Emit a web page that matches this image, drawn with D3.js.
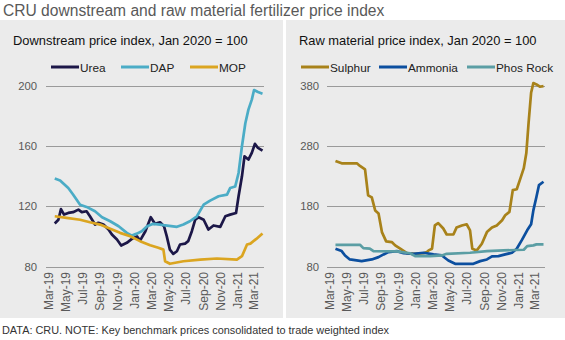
<!DOCTYPE html>
<html>
<head>
<meta charset="utf-8">
<script src="https://cdn.jsdelivr.net/npm/d3@7/dist/d3.min.js"></script>
<style>
  body { margin: 0; background: #fff; }
  text { font-family: Arial, "Liberation Sans", sans-serif; }
</style>
</head>
<body>
<svg id="chart" width="565" height="340"></svg>
<script>
// Tick labels (both panels share the same months)
var xTickLabels = ["Mar-19", "May-19", "Jul-19", "Sep-19", "Nov-19", "Jan-20", "Mar-20",
                   "May-20", "Jul-20", "Sep-20", "Nov-20", "Jan-21", "Mar-21"];
var leftTicks = [80, 120, 160, 200];
var rightTicks = [80, 180, 280, 380];

// Downstream series, [date, index]
var ureaData = [
    ["2019-03-25", 108.5], ["2019-04-07", 111], ["2019-04-16", 118], ["2019-04-27", 114.4],
    ["2019-05-12", 115.5], ["2019-05-29", 116], ["2019-06-17", 117.7], ["2019-06-29", 116],
    ["2019-07-16", 116.6], ["2019-07-28", 113.3], ["2019-08-15", 107.8], ["2019-08-27", 109],
    ["2019-09-14", 107.8], ["2019-10-02", 104.5], ["2019-10-14", 101.2], ["2019-11-01", 97.9],
    ["2019-11-16", 93.9], ["2019-12-06", 95.7], ["2019-12-24", 98.3], ["2020-01-11", 100],
    ["2020-01-22", 97.2], ["2020-02-10", 103.4], ["2020-02-29", 112.7], ["2020-03-15", 108.3],
    ["2020-04-02", 109.3], ["2020-04-16", 106.7], ["2020-04-26", 100], ["2020-05-07", 91.2],
    ["2020-05-19", 88.4], ["2020-06-01", 90.1], ["2020-06-12", 94.6], ["2020-06-30", 95.2],
    ["2020-07-11", 96.8], ["2020-07-24", 103.4], ["2020-08-05", 111], ["2020-08-17", 112.7],
    ["2020-09-04", 111], ["2020-09-21", 104.5], ["2020-10-09", 107.2], ["2020-11-02", 106.3],
    ["2020-11-20", 113.3], ["2020-12-07", 114.4], ["2020-12-28", 115.5], ["2021-01-06", 126.6],
    ["2021-01-18", 139.8], ["2021-01-27", 153], ["2021-02-10", 150.9], ["2021-02-22", 155.3],
    ["2021-03-05", 161.3], ["2021-03-16", 158.6], ["2021-04-01", 156.8]
];
var dapData = [
    ["2019-03-25", 138.3], ["2019-04-13", 137], ["2019-05-12", 132], ["2019-05-29", 127.7],
    ["2019-06-23", 121], ["2019-07-16", 119.5], ["2019-08-15", 116.6], ["2019-09-09", 112.7],
    ["2019-10-08", 110], ["2019-11-07", 106.7], ["2019-12-06", 102.3], ["2019-12-24", 100.5],
    ["2020-01-11", 101.8], ["2020-01-28", 103.4], ["2020-02-16", 106.7], ["2020-03-09", 108.3],
    ["2020-04-02", 107.8], ["2020-04-14", 107.4], ["2020-06-01", 106.3], ["2020-06-24", 107.8],
    ["2020-07-17", 110], ["2020-08-11", 113.3], ["2020-09-04", 121], ["2020-09-27", 123.7],
    ["2020-10-27", 126.6], ["2020-11-26", 127.7], ["2020-12-07", 132], ["2020-12-25", 133],
    ["2021-01-06", 142], ["2021-01-18", 159.7], ["2021-01-30", 175], ["2021-02-10", 184],
    ["2021-02-22", 190.6], ["2021-03-02", 197], ["2021-03-16", 195.7], ["2021-04-01", 194.6]
];
var mopData = [
    ["2019-03-25", 113.3], ["2019-05-06", 112.2], ["2019-06-23", 111], ["2019-07-28", 109.3],
    ["2019-09-02", 107.8], ["2019-10-08", 105], ["2019-11-12", 102.3], ["2019-12-18", 100],
    ["2020-01-22", 96.8], ["2020-02-27", 94.1], ["2020-03-27", 92.4], ["2020-04-14", 91.2],
    ["2020-04-20", 83.5], ["2020-05-07", 81.8], ["2020-06-24", 83.5], ["2020-08-23", 84.6],
    ["2020-10-21", 85.3], ["2020-12-31", 84.6], ["2021-01-18", 86.8], ["2021-02-05", 94.6],
    ["2021-02-17", 95.2], ["2021-03-10", 98.3], ["2021-04-01", 101.9]
];

// Raw material series, [date, index]
var sulphurData = [
    ["2019-03-24", 255], ["2019-04-15", 251], ["2019-06-08", 251], ["2019-06-19", 246.7],
    ["2019-07-07", 241], ["2019-07-18", 198], ["2019-07-31", 194.5], ["2019-08-12", 173],
    ["2019-08-24", 168], ["2019-09-05", 137], ["2019-09-20", 121.7], ["2019-10-10", 120.5],
    ["2019-10-22", 115], ["2019-11-09", 109.5], ["2019-12-03", 102], ["2020-01-01", 101],
    ["2020-01-31", 102], ["2020-02-12", 104], ["2020-02-18", 106.7], ["2020-03-01", 109.5],
    ["2020-03-11", 148], ["2020-03-23", 152], ["2020-04-10", 143], ["2020-04-22", 133],
    ["2020-05-16", 133], ["2020-05-27", 144.5], ["2020-06-15", 148], ["2020-07-02", 150],
    ["2020-07-14", 140], ["2020-07-22", 109.5], ["2020-08-07", 106.7], ["2020-08-25", 117.8],
    ["2020-09-12", 137], ["2020-09-30", 144.5], ["2020-10-17", 148], ["2020-11-05", 156.7],
    ["2020-11-16", 165], ["2020-12-01", 170.5], ["2020-12-13", 206.7], ["2020-12-27", 208],
    ["2021-01-09", 226], ["2021-01-21", 243], ["2021-01-30", 268], ["2021-02-07", 318],
    ["2021-02-16", 368], ["2021-02-24", 384], ["2021-03-07", 381.7], ["2021-03-19", 378],
    ["2021-04-01", 379]
];
var ammoniaData = [
    ["2019-03-24", 109.5], ["2019-04-15", 105.5], ["2019-04-27", 98.3], ["2019-05-14", 91.7],
    ["2019-06-25", 88.9], ["2019-07-31", 91.7], ["2019-08-24", 95.5], ["2019-09-11", 100],
    ["2019-09-28", 103.8], ["2019-10-28", 105.5], ["2019-11-21", 102], ["2019-12-26", 101],
    ["2020-01-31", 102.8], ["2020-02-24", 101], ["2020-03-06", 100], ["2020-04-05", 98.3],
    ["2020-04-28", 90], ["2020-05-22", 84.5], ["2020-07-26", 84.5], ["2020-08-19", 88.9],
    ["2020-09-12", 91.7], ["2020-09-30", 96.7], ["2020-10-23", 97.2], ["2020-11-16", 100],
    ["2020-12-10", 102.8], ["2020-12-27", 109.5], ["2021-01-15", 124.5], ["2021-02-02", 140],
    ["2021-02-16", 150], ["2021-02-24", 173], ["2021-03-07", 195.5], ["2021-03-16", 215],
    ["2021-04-01", 220.5]
];
var phosRockData = [
    ["2019-03-24", 116], ["2019-06-19", 116], ["2019-07-01", 110.5], ["2019-07-24", 109.5],
    ["2019-08-06", 105.5], ["2019-10-28", 105], ["2019-12-14", 102], ["2020-01-01", 97.2],
    ["2020-02-24", 97.2], ["2020-04-05", 98.3], ["2020-04-22", 101], ["2020-07-14", 102.8],
    ["2020-09-12", 105.5], ["2020-11-10", 106.7], ["2021-01-21", 107.8], ["2021-02-02", 113.8],
    ["2021-02-24", 115], ["2021-03-07", 116.7], ["2021-04-01", 116.7]
];

var parseDate = d3.timeParse("%Y-%m-%d");
var parseTick = d3.timeParse("%b-%y");
var xStart = new Date(2019, 2, 1);
var xEnd = new Date(2021, 3, 1);

var svg = d3.select("#chart");

// Page title
svg.append("text")
    .attr("x", 3)
    .attr("y", 16)
    .attr("fill", "#595959")
    .style("font-size", "15.6px")
    .text("CRU downstream and raw material fertilizer price index");

// Footer
svg.append("text")
    .attr("x", 2)
    .attr("y", 334)
    .attr("fill", "#333")
    .style("font-size", "10.9px")
    .text("DATA: CRU. NOTE: Key benchmark prices consolidated to trade weighted index");

var drawPanel = function(cfg) {
    var g = svg.append("g");

    g.append("rect")
        .attr("x", cfg.left)
        .attr("y", 20)
        .attr("width", cfg.width)
        .attr("height", 298)
        .attr("fill", "#ebebeb");

    g.append("text")
        .attr("x", cfg.left + 13)
        .attr("y", 45)
        .attr("fill", "#111")
        .style("font-size", "12.9px")
        .text(cfg.subtitle);

    var x = d3.scaleTime()
        .domain([xStart, xEnd])
        .range([cfg.plotLeft, cfg.plotLeft + 25 * 8.58]);

    var y = d3.scaleLinear()
        .domain([cfg.ticks[0], cfg.ticks[cfg.ticks.length - 1]])
        .range([266.5, 85.5]);

    // Gridlines
    g.selectAll(".grid")
        .data(cfg.ticks)
        .enter().append("line")
        .attr("x1", cfg.plotLeft - 2)
        .attr("x2", cfg.plotLeft + 25 * 8.58 + 1.5)
        .attr("y1", function(d) { return Math.round(y(d)) + 0.5; })
        .attr("y2", function(d) { return Math.round(y(d)) + 0.5; })
        .attr("stroke", "#9a9a9a")
        .attr("stroke-width", 1);

    // Y axis labels
    var yAxis = d3.axisLeft(y).tickValues(cfg.ticks).tickSize(0).tickPadding(0);
    var ya = g.append("g")
        .attr("transform", "translate(" + cfg.yLabelX + ",0)")
        .call(yAxis);
    ya.select(".domain").remove();
    ya.selectAll("text")
        .attr("fill", "#595959")
        .style("font-size", "11.3px")
        .style("font-family", "Arial, 'Liberation Sans', sans-serif");

    // X axis labels (rotated)
    var xAxis = d3.axisBottom(x)
        .tickValues(xTickLabels.map(function(s) { return parseTick(s); }))
        .tickFormat(d3.timeFormat("%b-%y"))
        .tickSize(0);
    var xa = g.append("g")
        .attr("transform", "translate(0,270)")
        .call(xAxis);
    xa.select(".domain").remove();
    xa.selectAll("text")
        .attr("transform", "rotate(-90)")
        .attr("x", -2)
        .attr("y", 0)
        .attr("dy", "0.35em")
        .attr("text-anchor", "end")
        .attr("fill", "#595959")
        .style("font-size", "12px")
        .style("font-family", "Arial, 'Liberation Sans', sans-serif");

    var line = d3.line()
        .x(function(d) { return x(parseDate(d[0])); })
        .y(function(d) { return y(d[1]); });

    cfg.series.forEach(function(s, i) {
        g.append("path")
            .datum(s.data)
            .attr("d", line)
            .attr("fill", "none")
            .attr("stroke", s.color)
            .attr("stroke-width", 2.7)
            .attr("stroke-linejoin", "round");

        // Legend entry
        var lx = cfg.legendX[i];
        g.append("line")
            .attr("x1", lx)
            .attr("x2", lx + 28)
            .attr("y1", 67)
            .attr("y2", 67)
            .attr("stroke", s.color)
            .attr("stroke-width", 3);
        g.append("text")
            .attr("x", lx + 29)
            .attr("y", 71.5)
            .attr("fill", "#222")
            .style("font-size", "11.8px")
            .text(s.name);
    });
};

drawPanel({
    left: 0,
    width: 283,
    subtitle: "Downstream price index, Jan 2020 = 100",
    plotLeft: 48,
    yLabelX: 37,
    ticks: leftTicks,
    legendX: [51, 121, 190],
    series: [
        { name: "Urea", data: ureaData, color: "#1c1748" },
        { name: "DAP", data: dapData, color: "#4bacc6" },
        { name: "MOP", data: mopData, color: "#dba520" }
    ]
});

drawPanel({
    left: 286,
    width: 279,
    subtitle: "Raw material price index, Jan 2020 = 100",
    plotLeft: 329,
    yLabelX: 319,
    ticks: rightTicks,
    legendX: [301, 379, 467],
    series: [
        { name: "Sulphur", data: sulphurData, color: "#a8821a" },
        { name: "Ammonia", data: ammoniaData, color: "#0c4f9f" },
        { name: "Phos Rock", data: phosRockData, color: "#5b9ea4" }
    ]
});
</script>
</body>
</html>
